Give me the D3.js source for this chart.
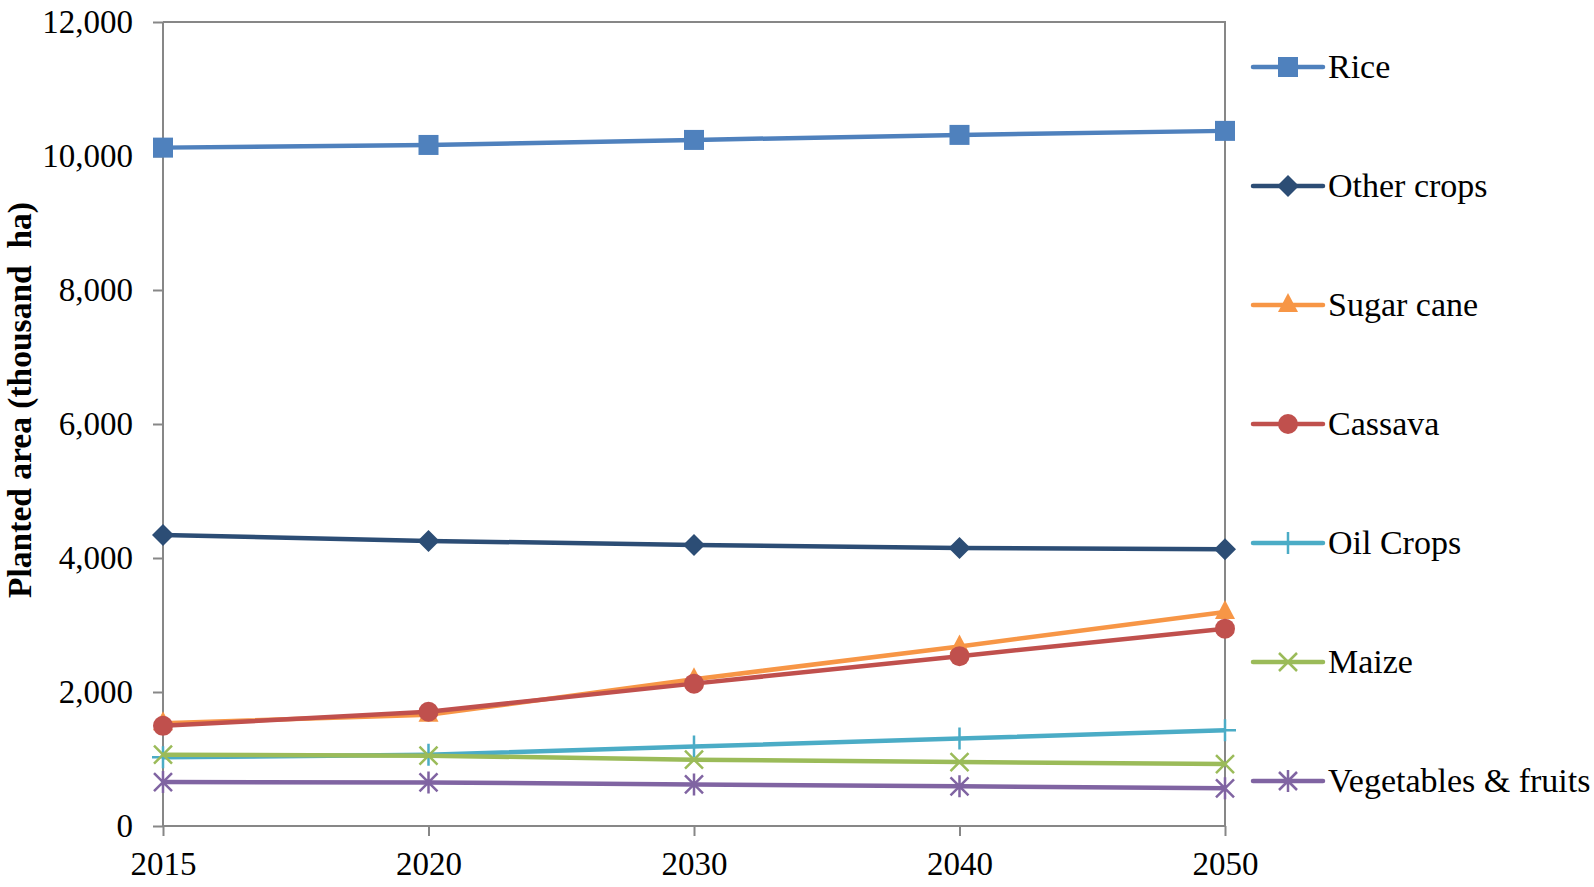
<!DOCTYPE html>
<html>
<head>
<meta charset="utf-8">
<script src="https://cdn.jsdelivr.net/npm/d3@7"></script>
<style>
  body { margin: 0; background: #fff; }
  svg { display: block; }
  text { font-family: "Liberation Serif", "Times New Roman", serif; }
</style>
</head>
<body>
<svg id="chart" width="1594" height="887"></svg>
<script>
// data (thousand ha)
var years = ['2015', '2020', '2030', '2040', '2050'];
var rice = [10125, 10165, 10240, 10315, 10375];
var otherCrops = [4345, 4255, 4195, 4150, 4130];
var sugarCane = [1535, 1660, 2190, 2680, 3195];
var cassava = [1495, 1705, 2125, 2535, 2945];
var oilCrops = [1025, 1063, 1185, 1305, 1430];
var maize = [1065, 1050, 990, 955, 925];
var vegFruits = [655, 650, 620, 592, 562];
var yTicks = [0, 2000, 4000, 6000, 8000, 10000, 12000];

var series = [
    { name: 'Rice', values: rice, color: '#4F81BD', marker: 'square' },
    { name: 'Other crops', values: otherCrops, color: '#2C4D75', marker: 'diamond' },
    { name: 'Sugar cane', values: sugarCane, color: '#F79646', marker: 'triangle' },
    { name: 'Cassava', values: cassava, color: '#C0504D', marker: 'circle' },
    { name: 'Oil Crops', values: oilCrops, color: '#4BACC6', marker: 'plus' },
    { name: 'Maize', values: maize, color: '#9BBB59', marker: 'cross' },
    { name: 'Vegetables & fruits', values: vegFruits, color: '#8064A2', marker: 'star' }
];

var svg = d3.select('#chart');
var plotLeft = 163, plotRight = 1225, plotTop = 22, plotBottom = 826;
var axisColor = '#878787';

var x = d3.scalePoint().domain(years).range([plotLeft, plotRight]);
var y = d3.scaleLinear().domain([0, 12000]).range([plotBottom, plotTop]);

// plot border (top + right)
svg.append('path')
    .attr('d', 'M' + plotLeft + ',' + plotTop + 'H' + plotRight + 'V' + plotBottom)
    .attr('fill', 'none')
    .attr('stroke', axisColor)
    .attr('stroke-width', 2);

var yAxis = svg.append('g')
    .attr('transform', 'translate(' + plotLeft + ',0)')
    .call(d3.axisLeft(y).tickValues(yTicks).tickFormat(d3.format(',')).tickSize(10).tickPadding(20));

var xAxis = svg.append('g')
    .attr('transform', 'translate(0,' + plotBottom + ')')
    .call(d3.axisBottom(x).tickSize(10).tickPadding(16));

[yAxis, xAxis].forEach(function (g) {
    g.select('.domain').remove();
    g.selectAll('line').attr('stroke', axisColor).attr('stroke-width', 2);
    g.selectAll('text')
        .attr('fill', '#000')
        .style('font-family', '"Liberation Serif", "Times New Roman", serif')
        .style('font-size', '33px');
});
// axis lines
svg.append('line').attr('x1', plotLeft).attr('x2', plotLeft).attr('y1', plotTop).attr('y2', plotBottom)
    .attr('stroke', axisColor).attr('stroke-width', 2);
svg.append('line').attr('x1', plotLeft).attr('x2', plotRight).attr('y1', plotBottom).attr('y2', plotBottom)
    .attr('stroke', axisColor).attr('stroke-width', 2);

// y axis title
svg.append('text')
    .attr('transform', 'translate(31,400)rotate(-90)')
    .attr('text-anchor', 'middle')
    .style('font-size', '33.5px')
    .style('font-weight', 'bold')
    .text('Planted area (thousand\u00a0 ha)');

function drawMarker(g, type, color) {
    if (type == 'square') {
        g.append('rect').attr('x', -10).attr('y', -10).attr('width', 20).attr('height', 20).attr('fill', color);
    } else if (type == 'diamond') {
        g.append('path').attr('d', 'M0,-11L11,0L0,11L-11,0Z').attr('fill', color);
    } else if (type == 'triangle') {
        g.append('path').attr('d', 'M0,-12L10,7L-10,7Z').attr('fill', color);
    } else if (type == 'circle') {
        g.append('circle').attr('r', 10).attr('fill', color);
    } else if (type == 'plus') {
        g.append('path').attr('d', 'M-11,0H11M0,-11V11').attr('stroke', color).attr('stroke-width', 2.5);
    } else if (type == 'cross') {
        g.append('path').attr('d', 'M-9,-9L9,9M-9,9L9,-9').attr('stroke', color).attr('stroke-width', 2.5);
    } else if (type == 'star') {
        g.append('path').attr('d', 'M-9,-9L9,9M-9,9L9,-9M0,-11V11').attr('stroke', color).attr('stroke-width', 2.5);
    }
}

var line = d3.line()
    .x(function (d, i) { return x(years[i]); })
    .y(function (d) { return y(d); });

series.forEach(function (s) {
    var g = svg.append('g').attr('class', 'series');
    g.append('path')
        .attr('d', line(s.values))
        .attr('fill', 'none')
        .attr('stroke', s.color)
        .attr('stroke-width', 4.5)
        .attr('stroke-linejoin', 'round');
    s.values.forEach(function (v, i) {
        var m = g.append('g').attr('transform', 'translate(' + x(years[i]) + ',' + y(v) + ')');
        drawMarker(m, s.marker, s.color);
    });
});

// legend
var legendY = d3.scalePoint().domain(series.map(function (s) { return s.name; })).range([67, 781]);
var legend = svg.selectAll('.legend')
    .data(series)
    .enter()
    .append('g')
    .attr('class', 'legend')
    .attr('transform', function (d) { return 'translate(1253,' + legendY(d.name) + ')'; });

legend.append('line')
    .attr('x1', 0).attr('x2', 70)
    .attr('stroke', function (d) { return d.color; })
    .attr('stroke-width', 4.5)
    .attr('stroke-linecap', 'round');
legend.each(function (d) {
    var m = d3.select(this).append('g').attr('transform', 'translate(35,0)');
    drawMarker(m, d.marker, d.color);
});
legend.append('text')
    .attr('x', 75)
    .attr('dy', '0.33em')
    .style('font-size', '34px')
    .text(function (d) { return d.name; });
</script>
</body>
</html>
